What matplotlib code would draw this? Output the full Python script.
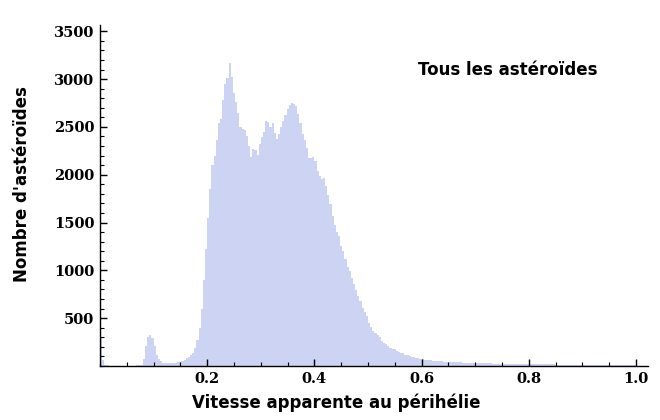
import numpy as np
import matplotlib
matplotlib.use("Agg")
import matplotlib.pyplot as plt
from matplotlib.ticker import MultipleLocator, FixedLocator

# Histogram of apparent speed at perihelion, bins of 0.004 starting at 0
bin_width = 0.004
counts = [
    # 0.000 - 0.080
    300, 60, 15, 6, 3,
    2, 2, 2, 2, 2, 2, 2, 2, 3, 3, 4, 5,
    6, 8, 15,
    # 0.080 - 0.200 (small bump near 0.09, then rise)
    70, 210, 300, 325, 290, 210, 120, 75, 48, 35,
    30, 28, 27, 28, 30, 33, 38, 45, 55, 65,
    80, 95, 110, 140, 190, 270, 400, 600, 900, 1220,
    # 0.200 - 0.300
    1550, 1850, 2100, 2200, 2360, 2540, 2580, 2780, 2950, 3010,
    3170, 3020, 2850, 2760, 2645, 2500, 2480, 2470, 2400, 2300,
    2190, 2270, 2260, 2210, 2320,
    # 0.300 - 0.400
    2390, 2450, 2560, 2550, 2500, 2540, 2440, 2370, 2430, 2500,
    2560, 2620, 2690, 2730, 2750, 2735, 2720, 2640, 2540, 2430,
    2360, 2280, 2180, 2170, 2190,
    # 0.400 - 0.500
    2140, 2040, 1990, 1960, 1970, 1880, 1790, 1690, 1570, 1470,
    1400, 1360, 1260, 1200, 1120, 1040, 990, 920, 860, 790,
    730, 680, 610, 560, 520,
    # 0.500 - 0.600
    450, 410, 370, 340, 320, 300, 265, 245, 230, 205,
    185, 180, 175, 160, 150, 140, 132, 118, 110, 105,
    98, 92, 88, 82, 76,
    # 0.600 - 0.700
    70, 66, 62, 60, 58, 55, 53, 52, 50, 48,
    47, 46, 45, 44, 42, 41, 40, 38, 37, 36,
    35, 34, 33, 32, 32,
    # 0.700 - 0.800
    31, 30, 30, 29, 28, 28, 27, 27, 26, 26,
    25, 25, 24, 24, 23, 23, 23, 22, 22, 21,
    21, 20, 20, 20, 19,
    # 0.800 - 1.000
    19, 19, 18, 18, 18, 17, 17, 17, 16, 16,
    16, 16, 15, 15, 15, 15, 14, 14, 14, 14,
    14, 13, 13, 13, 13, 13, 13, 12, 12, 12,
    12, 12, 12, 12, 11, 11, 11, 11, 11, 11,
    11, 11, 10, 10, 10, 10, 10, 10, 10, 10,
]

x_ticks = [0.2, 0.4, 0.6, 0.8, 1.0]
x_tick_labels = ["0.2", "0.4", "0.6", "0.8", "1.0"]
y_ticks = [500, 1000, 1500, 2000, 2500, 3000, 3500]
y_tick_labels = ["500", "1000", "1500", "2000", "2500", "3000", "3500"]

bar_color = "#ccd3f3"

fig = plt.figure(figsize=(6.6, 4.2), dpi=100)
ax = fig.add_axes([100 / 660, 54 / 420, 548 / 660, 341 / 420])

lefts = np.arange(len(counts)) * bin_width
ax.bar(lefts, counts, width=bin_width, align="edge", color=bar_color,
       edgecolor="none", linewidth=0)

ax.set_xlim(0, 1.0224)
ax.set_ylim(0, 3566)

for side in ["top", "right"]:
    ax.spines[side].set_visible(False)
for side in ["left", "bottom"]:
    ax.spines[side].set_linewidth(1.0)
    ax.spines[side].set_color("black")

ax.xaxis.set_major_locator(FixedLocator(x_ticks))
ax.set_xticklabels(x_tick_labels)
ax.xaxis.set_minor_locator(MultipleLocator(0.05))
ax.yaxis.set_major_locator(FixedLocator(y_ticks))
ax.set_yticklabels(y_tick_labels)
ax.yaxis.set_minor_locator(MultipleLocator(100))

ax.tick_params(which="major", direction="in", length=5, width=1, color="black")
ax.tick_params(which="minor", direction="in", length=3, width=0.8, color="black")
ax.tick_params(axis="x", which="major", pad=4)
ax.tick_params(axis="y", which="major", pad=4)

for lab in ax.get_xticklabels() + ax.get_yticklabels():
    lab.set_fontfamily("DejaVu Serif")
    lab.set_fontweight("bold")
    lab.set_fontsize(10.5)

ax.set_xlabel("Vitesse apparente au périhélie", fontfamily="DejaVu Sans",
              fontweight="bold", fontsize=12)
ax.xaxis.set_label_coords(0.432, -0.08)
ax.set_ylabel("Nombre d'astéroïdes", fontfamily="DejaVu Sans",
              fontweight="bold", fontsize=12)
ax.yaxis.set_label_coords(-0.125, 0.534)

ax.text(0.593, 3095, "Tous les astéroïdes", fontfamily="DejaVu Sans",
        fontweight="bold", fontsize=12, ha="left", va="center")

fig.savefig("out.png", dpi=100)
